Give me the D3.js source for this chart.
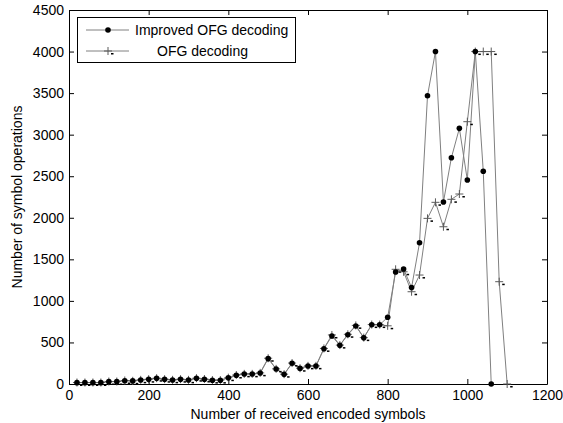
<!DOCTYPE html>
<html><head><meta charset="utf-8">
<script src="https://cdn.jsdelivr.net/npm/d3@7"></script>
<style>
body{margin:0;background:#fff}
svg{display:block;font-family:Arial,"Liberation Sans",sans-serif}
</style>
</head><body><svg id="c" width="563" height="423"></svg>
<script>
const improvedX = [20,40,60,80,100,120,140,160,180,200,220,240,260,280,300,320,340,360,380,400,420,440,460,480,500,520,540,560,580,600,620,640,660,680,700,720,740,760,780,800,820,840,860,880,900,920,940,960,980,1000,1020,1040,1060];
const improvedY = [16,16,16,16,28,28,40,37,48,56,68,56,48,56,48,68,58,45,45,74,106,120,120,132,305,180,116,249,188,216,216,425,577,465,593,698,555,712,712,804,1347,1383,1161,1700,3469,4000,2190,2723,3076,2454,4000,2559,0];
const ofgX = [20,40,60,80,100,120,140,160,180,200,220,240,260,280,300,320,340,360,380,400,420,440,460,480,500,520,540,560,580,600,620,640,660,680,700,720,740,760,780,800,820,840,860,880,900,920,940,960,980,1000,1020,1040,1060,1080,1100];
const ofgY = [18,18,18,18,30,30,42,38,50,58,70,58,50,58,50,70,60,47,47,76,108,122,122,134,310,182,118,252,190,218,218,428,590,468,598,705,558,715,715,700,1380,1350,1110,1311,1993,2186,1892,2222,2286,3156,4000,4000,4000,1231,0];
const xTicks = [0,200,400,600,800,1000,1200];
const yTicks = [0,500,1000,1500,2000,2500,3000,3500,4000,4500];
const seriesNames = ["Improved OFG decoding","OFG decoding"];
const xLabel = "Number of received encoded symbols";
const yLabel = "Number of symbol operations";

const L=69, R=547, T=10, B=384;
const FS="14px";
const svg = d3.select("#c");
const x = d3.scaleLinear().domain([0,1200]).range([L,R]);
const y = d3.scaleLinear().domain([0,4500]).range([B,T]);
const fmt = d3.format("d");

function styleAxis(g){
  g.selectAll("path").attr("stroke","#000").attr("stroke-width",1);
  g.selectAll("line").attr("stroke","#000").attr("stroke-width",1);
  g.selectAll("text").attr("fill","#000").attr("font-size",FS).attr("font-family","Arial, 'Liberation Sans', sans-serif");
}
svg.append("g").attr("transform",`translate(0,${B})`)
  .call(d3.axisBottom(x).tickValues(xTicks).tickFormat(fmt).tickSizeInner(-5).tickSizeOuter(0).tickPadding(6)).call(styleAxis);
svg.append("g").attr("transform",`translate(${L},0)`)
  .call(d3.axisLeft(y).tickValues(yTicks).tickFormat(fmt).tickSizeInner(-5).tickSizeOuter(0).tickPadding(5)).call(styleAxis);
svg.append("g").attr("transform",`translate(0,${T})`)
  .call(d3.axisTop(x).tickValues(xTicks).tickSizeInner(-5).tickSizeOuter(0).tickFormat("")).call(styleAxis);
svg.append("g").attr("transform",`translate(${R},0)`)
  .call(d3.axisRight(y).tickValues(yTicks).tickSizeInner(-5).tickSizeOuter(0).tickFormat("")).call(styleAxis);

const line = d3.line().x(d=>x(d[0])).y(d=>y(d[1]));
const imp = improvedX.map((v,i)=>[v,improvedY[i]]);
const ofg = ofgX.map((v,i)=>[v,ofgY[i]]);

svg.append("path").attr("d",line(ofg)).attr("fill","none").attr("stroke","#808080").attr("stroke-width",1);
svg.append("path").attr("d",line(imp)).attr("fill","none").attr("stroke","#808080").attr("stroke-width",1);

function plusMarker(g,cx,cy){
  g.append("line").attr("x1",cx-4).attr("x2",cx+4).attr("y1",cy).attr("y2",cy).attr("stroke","#5a5a5a").attr("stroke-width",1);
  g.append("line").attr("x1",cx).attr("x2",cx).attr("y1",cy-4).attr("y2",cy+4).attr("stroke","#5a5a5a").attr("stroke-width",1);
  g.append("rect").attr("x",cx+3).attr("y",cy+2).attr("width",2.5).attr("height",1.5).attr("fill","#000");
}
const gm = svg.append("g");
ofg.forEach(d=>plusMarker(gm,x(d[0]),y(d[1])));
svg.append("g").selectAll("circle").data(imp).join("circle")
  .attr("cx",d=>x(d[0])).attr("cy",d=>y(d[1])).attr("r",2.8).attr("fill","#000");

// legend
const lg = svg.append("g");
lg.append("rect").attr("x",77.5).attr("y",17.5).attr("width",218).attr("height",45).attr("fill","#fff").attr("stroke","#000").attr("stroke-width",1);
lg.append("line").attr("x1",86).attr("x2",129).attr("y1",30).attr("y2",30).attr("stroke","#808080");
lg.append("circle").attr("cx",108).attr("cy",30).attr("r",2.8).attr("fill","#000");
lg.append("text").attr("x",135).attr("y",30).attr("dy","0.35em").attr("font-size",FS).text(seriesNames[0]);
lg.append("line").attr("x1",86).attr("x2",129).attr("y1",51).attr("y2",51).attr("stroke","#808080");
plusMarker(lg,108,51);
lg.append("text").attr("x",157).attr("y",51).attr("dy","0.35em").attr("font-size",FS).text(seriesNames[1]);

svg.append("text").attr("x",(L+R)/2).attr("y",419).attr("text-anchor","middle").attr("font-size",FS).text(xLabel);
svg.append("text").attr("transform",`translate(22,${(T+B)/2}) rotate(-90)`).attr("text-anchor","middle").attr("font-size",FS).text(yLabel);
</script></body></html>
